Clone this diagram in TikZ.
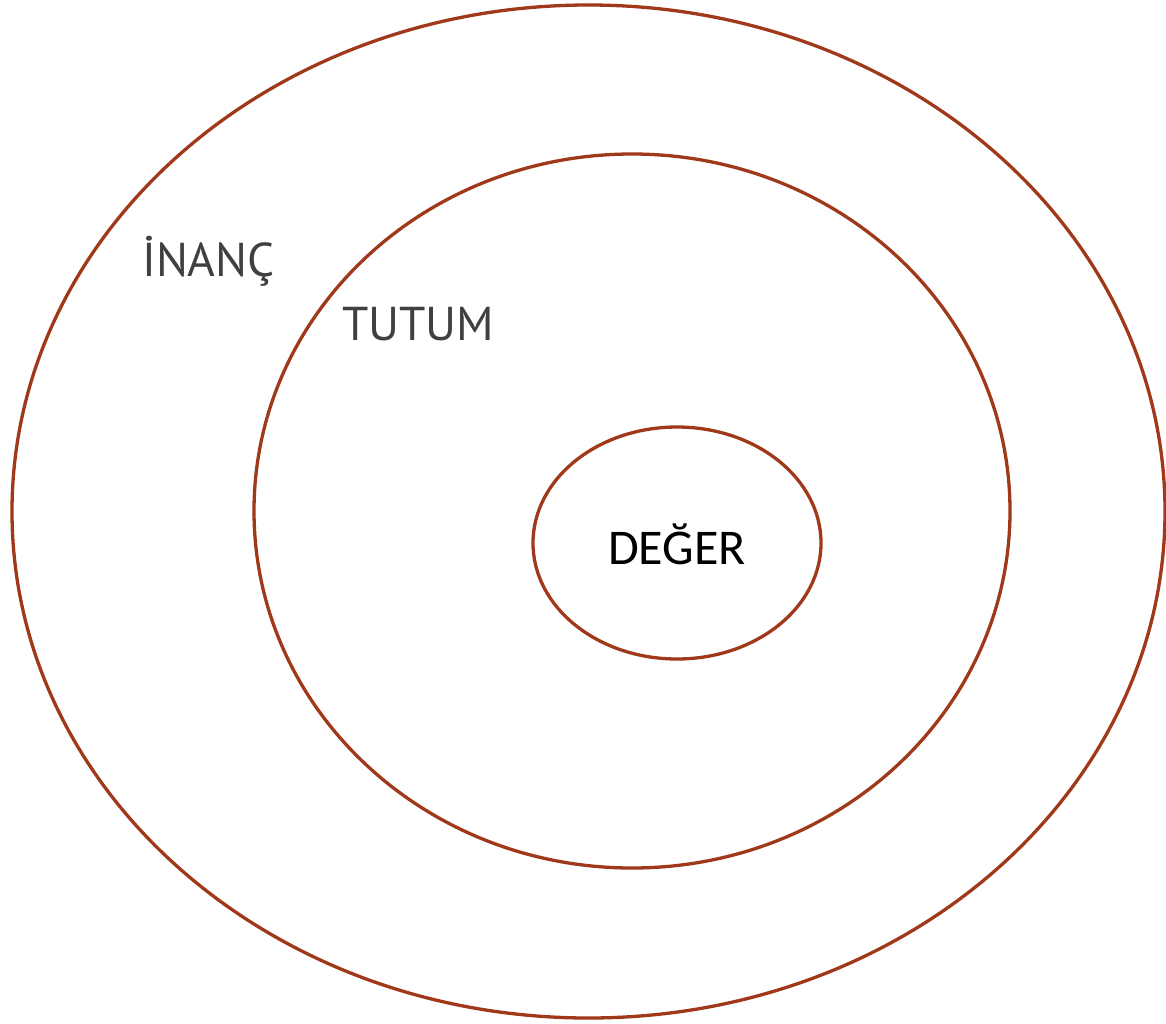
\documentclass[tikz,border=0pt]{standalone}
\usepackage{fontspec}
\setmainfont{Carlito}
\newfontfamily\twfont{PT Sans}
\definecolor{ring}{HTML}{A0381A}
\definecolor{txt}{HTML}{404040}
\begin{document}
\begin{tikzpicture}[x=1pt,y=-1pt,
  ringline/.style={draw=ring,line width=3.3pt},
  graylabel/.style={text=txt,font=\twfont\fontsize{47.5}{50}\selectfont,inner sep=0pt,anchor=base west},
  blacklabel/.style={text=black,font=\fontsize{50}{54}\selectfont,inner sep=0pt,anchor=base}]
\useasboundingbox (0,0) rectangle (1166,1023);
\draw[ringline] (588.5,511.5) ellipse [x radius=576.5, y radius=506.5];
\draw[ringline] (632,511) ellipse [x radius=378, y radius=357];
\draw[ringline] (677,543) ellipse [x radius=144, y radius=116];
\node[graylabel] (inanc) at (142,276) {İNANÇ};
\node[graylabel] (tutum) at (342,340) {TUTUM};
\node[blacklabel] (deger) at (677,564) {DEĞER};
\end{tikzpicture}
\end{document}
